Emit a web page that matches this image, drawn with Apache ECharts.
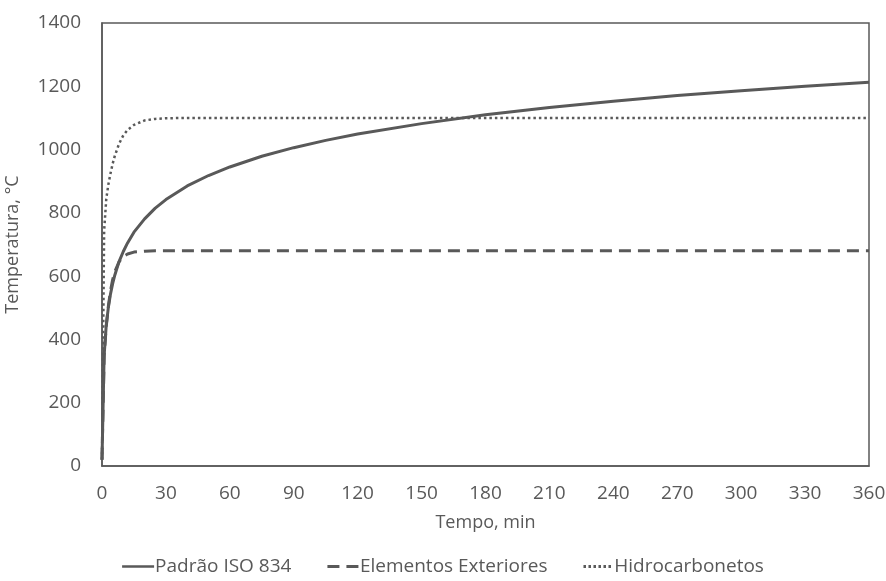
<!DOCTYPE html>
<html>
<head>
<meta charset="utf-8">
<script src="https://cdn.jsdelivr.net/npm/echarts@6/dist/echarts.min.js"></script>
<style>
  html, body { margin: 0; padding: 0; background: #fff; }
  #chart { width: 886px; height: 581px; }
</style>
</head>
<body>
<div id="chart"></div>
<script>
// tempo (min) e temperaturas
const times = [0, 1, 2, 3, 4, 5, 6, 8, 10, 12, 15, 20, 25, 30, 40, 50, 60, 75, 90, 105, 120, 150, 180, 210, 240, 270, 300, 330, 360]
const isoValues = [20, 349, 445, 502, 544, 576, 603, 646, 678, 705, 739, 781, 815, 842, 885, 918, 945, 979, 1006, 1029, 1049, 1082, 1110, 1133, 1153, 1171, 1186, 1200, 1213]
const extValues = [20, 346, 441, 506, 554, 589, 614, 645, 662, 670, 676, 679, 680, 680, 680, 680, 680, 680, 680, 680, 680, 680, 680, 680, 680, 680, 680, 680, 680]
const hcValues = [20, 743, 844, 890, 925, 955, 980, 1018, 1045, 1062, 1078, 1092, 1097, 1099, 1100, 1100, 1100, 1100, 1100, 1100, 1100, 1100, 1100, 1100, 1100, 1100, 1100, 1100, 1100]
const seriesNames = ['Padrão ISO 834', 'Elementos Exteriores', 'Hidrocarbonetos']

const grey = '#595959'
const font = 'Open Sans'

const toPairs = vals => times.map((t, i) => [t, vals[i]])

// ícones da legenda (linha cheia, tracejada, pontilhada)
const iconSolid = 'path://M0,0H36V3H0Z'
const iconDashed = 'path://M0,0H12V3H0Z M19,0H31V3H19Z'
const iconDotted = 'path://M0,0H2.5V3H0Z M5,0H7.5V3H5Z M10,0H12.5V3H10Z M15,0H17.5V3H15Z M20,0H22.5V3H20Z M25,0H27.5V3H25Z'

const chart = echarts.init(document.getElementById('chart'))
chart.setOption({
  animation: false,
  textStyle: { fontFamily: font, color: grey },
  grid: {
    left: 102, right: 17, top: 23, bottom: 115,
    outerBoundsMode: 'none',
    containLabel: false,
    show: true, borderColor: grey, borderWidth: 1.5
  },
  xAxis: {
    type: 'value',
    min: 0, max: 360, interval: 30,
    name: 'Tempo, min',
    nameLocation: 'middle',
    nameGap: 48,
    nameTextStyle: { fontSize: 18, color: grey, fontFamily: font },
    axisLine: { show: true, lineStyle: { color: grey, width: 1.5 } },
    axisTick: { show: false },
    splitLine: { show: false },
    axisLabel: { fontSize: 19, color: grey, margin: 18, fontFamily: font }
  },
  yAxis: {
    type: 'value',
    min: 0, max: 1400, interval: 200,
    name: 'Temperatura, °C',
    nameLocation: 'middle',
    nameGap: 80,
    nameTextStyle: { fontSize: 18, color: grey, fontFamily: font },
    axisLine: { show: true, lineStyle: { color: grey, width: 1.5 } },
    axisTick: { show: false },
    splitLine: { show: false },
    axisLabel: { fontSize: 19, color: grey, margin: 21, fontFamily: font, formatter: v => String(v) }
  },
  legend: {
    bottom: 0,
    left: 'center',
    itemWidth: 32,
    itemHeight: 3,
    itemGap: 36,
    textStyle: { fontSize: 19, color: grey, fontFamily: font, padding: [0, 0, 0, -4] },
    data: [
      { name: seriesNames[0], icon: iconSolid },
      { name: seriesNames[1], icon: iconDashed },
      { name: seriesNames[2], icon: iconDotted }
    ]
  },
  series: [
    {
      name: seriesNames[0],
      type: 'line',
      data: toPairs(isoValues),
      symbol: 'none',
      z: 3,
      lineStyle: { color: grey, width: 3 },
      itemStyle: { color: grey }
    },
    {
      name: seriesNames[1],
      type: 'line',
      data: toPairs(extValues),
      symbol: 'none',
      z: 2,
      lineStyle: { color: grey, width: 3, type: [12, 7] },
      itemStyle: { color: grey }
    },
    {
      name: seriesNames[2],
      type: 'line',
      data: toPairs(hcValues),
      symbol: 'none',
      z: 2,
      lineStyle: { color: grey, width: 2.5, type: [2.5, 3] },
      itemStyle: { color: grey }
    }
  ]
})
</script>
</body>
</html>
